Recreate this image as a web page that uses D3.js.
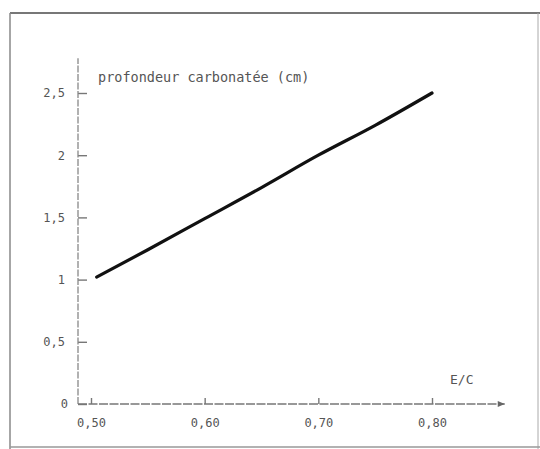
<!DOCTYPE html>
<html>
<head>
<meta charset="utf-8">
<script src="https://cdn.jsdelivr.net/npm/d3@7"></script>
<style>
  body { margin: 0; background: #fff; }
  .axis text { font-family: "DejaVu Sans Mono", monospace; font-size: 12px; fill: #555; }
  .axis line { stroke: #777; stroke-width: 1.4; }
</style>
</head>
<body>
<svg id="chart"></svg>
<script>
// values
const ecRatio = [0.505, 0.55, 0.60, 0.65, 0.70, 0.75, 0.80];
const depth   = [1.02, 1.24, 1.49, 1.74, 2.00, 2.24, 2.50];
const yTicks = [0, 0.5, 1, 1.5, 2, 2.5];
const xTicks = [0.50, 0.60, 0.70, 0.80];

const width = 540, height = 449;

const svg = d3.select("#chart")
  .attr("width", width)
  .attr("height", height);

// frame of the scan
svg.append("line").attr("x1", 10).attr("x2", 540).attr("y1", 13).attr("y2", 13)
  .attr("stroke", "#777").attr("stroke-width", 2.2);
svg.append("line").attr("x1", 10).attr("x2", 10).attr("y1", 13).attr("y2", 449)
  .attr("stroke", "#888").attr("stroke-width", 1.5);
svg.append("line").attr("x1", 538).attr("x2", 538).attr("y1", 13).attr("y2", 449)
  .attr("stroke", "#aaa").attr("stroke-width", 1);
svg.append("line").attr("x1", 10).attr("x2", 540).attr("y1", 447).attr("y2", 447)
  .attr("stroke", "#999").attr("stroke-width", 1.5);

const x = d3.scaleLinear().domain([0.5, 0.8]).range([91, 432]);
const y = d3.scaleLinear().domain([0, 2.5]).range([404, 93]);
const axisX = 78;

const comma = s => s.replace(".", ",");

// y axis
const yAxis = d3.axisLeft(y)
  .tickValues(yTicks)
  .tickSizeInner(-9)
  .tickSizeOuter(0)
  .tickPadding(13)
  .tickFormat(d => comma(String(d)));

svg.append("g")
  .attr("class", "axis y-axis")
  .attr("transform", `translate(${axisX},0)`)
  .call(yAxis)
  .call(g => g.select(".domain").remove())
  .call(g => g.select(".tick text").filter(d => d === 0).attr("x", -10));

svg.append("line")
  .attr("x1", axisX).attr("x2", axisX)
  .attr("y1", y(0)).attr("y2", y(2.78))
  .attr("stroke", "#888").attr("stroke-width", 1.3)
  .attr("stroke-dasharray", "7 1.5");

// x axis
const xAxis = d3.axisBottom(x)
  .tickValues(xTicks)
  .tickSizeInner(-6)
  .tickSizeOuter(0)
  .tickPadding(14)
  .tickFormat(d => comma(d3.format(".2f")(d)));

svg.append("g")
  .attr("class", "axis x-axis")
  .attr("transform", `translate(0,${y(0)})`)
  .call(xAxis)
  .call(g => g.select(".domain").remove());

svg.append("line")
  .attr("x1", axisX).attr("x2", x(0.864))
  .attr("y1", y(0)).attr("y2", y(0))
  .attr("stroke", "#777").attr("stroke-width", 1.4)
  .attr("stroke-dasharray", "9 1.5");

// arrow head
svg.append("path")
  .attr("d", `M${x(0.864)},${y(0)} l-7,-3 l0,6 z`)
  .attr("fill", "#666");

// labels
svg.append("text")
  .attr("x", 98)
  .attr("y", 82)
  .attr("font-family", "DejaVu Sans Mono, monospace")
  .attr("font-size", "13.5px")
  .attr("fill", "#555")
  .text("profondeur carbonatée (cm)");

svg.append("text")
  .attr("x", 450)
  .attr("y", 384)
  .attr("font-family", "DejaVu Sans Mono, monospace")
  .attr("font-size", "13px")
  .attr("fill", "#555")
  .text("E/C");

// data line
const pts = ecRatio.map((v, i) => [v, depth[i]]);
svg.append("path")
  .datum(pts)
  .attr("fill", "none")
  .attr("stroke", "#111")
  .attr("stroke-width", 3.2)
  .attr("stroke-linecap", "round")
  .attr("d", d3.line().x(d => x(d[0])).y(d => y(d[1])).curve(d3.curveMonotoneX));
</script>
</body>
</html>
